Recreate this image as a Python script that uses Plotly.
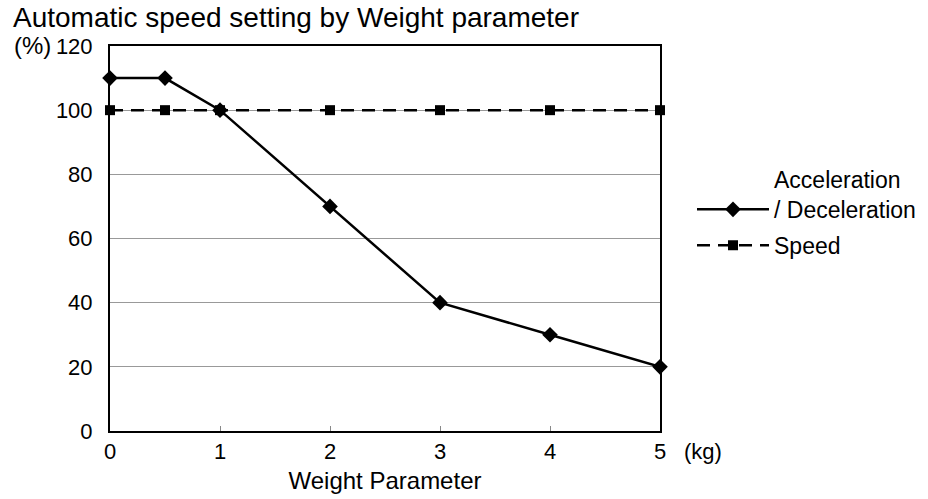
import plotly.graph_objects as go

# data
weight = [0, 0.5, 1, 2, 3, 4, 5]
accel = [110, 110, 100, 70, 40, 30, 20]
speed = [100, 100, 100, 100, 100, 100, 100]
x_ticks = [0, 1, 2, 3, 4, 5]
y_ticks = [0, 20, 40, 60, 80, 100, 120]

W, H = 928, 499
L, R, T, B = 110, 268, 46, 68
FONT = "Liberation Sans, Arial, sans-serif"


def px_x(p):
    # pixel -> paper x
    return (p - L) / (W - L - R)


def px_y(p):
    return (H - B - p) / (H - T - B)


fig = go.Figure()
fig.add_trace(go.Scatter(
    x=weight, y=accel, mode="lines+markers",
    name="Acceleration<br>/ Deceleration", legendgroup="acc",
    line=dict(color="black", width=2.5),
    marker=dict(symbol="diamond", size=12, color="black"),
    cliponaxis=False,
))
fig.add_trace(go.Scatter(
    x=weight, y=speed, mode="lines+markers", name="Speed", legendgroup="spd",
    line=dict(color="black", width=2.5, dash="13px,8px"),
    marker=dict(symbol="square", size=10, color="black"),
    cliponaxis=False,
))

fig.update_layout(
    width=W, height=H,
    margin=dict(l=L, r=R, t=T, b=B, autoexpand=False),
    plot_bgcolor="white", paper_bgcolor="white",
    font=dict(family=FONT, size=22, color="black"),
    title=dict(text="Automatic speed setting by Weight parameter",
               x=13 / W, xanchor="left", xref="container",
               y=1 - 17 / H, yanchor="middle", yref="container",
               font=dict(size=28)),
    xaxis=dict(range=[0, 5], tickvals=x_ticks, showgrid=False,
               ticks="inside", ticklen=5, tickcolor="#888", tickwidth=1,
               showline=True, linecolor="black", linewidth=2, mirror=True,
               zeroline=False, ticklabelstandoff=0, automargin=False,
               title=dict(text="Weight Parameter", standoff=9,
                          font=dict(size=24))),
    yaxis=dict(range=[0, 120], tickvals=y_ticks, showgrid=True,
               gridcolor="#999", gridwidth=1, ticks="",
               showline=True, linecolor="black", linewidth=2, mirror=True,
               zeroline=False, ticklabelstandoff=11, automargin=False),
    legend=dict(x=692 / W, y=1 - 158 / H, xref="container", yref="container",
                xanchor="left", yanchor="top", valign="bottom",
                itemwidth=72, bgcolor="rgba(0,0,0,0)",
                font=dict(size=23), tracegroupgap=3),
    annotations=[
        dict(text="(%)", xref="paper", yref="paper", x=px_x(12), y=px_y(45),
             xanchor="left", yanchor="middle", showarrow=False,
             font=dict(size=24)),
        dict(text="(kg)", xref="paper", yref="paper", x=px_x(682), y=px_y(451),
             xanchor="left", yanchor="middle", showarrow=False,
             font=dict(size=22)),
    ],
)

# drop the browser's default body margin so the figure sits at 0,0
fig.write_html("out.html", config={"displayModeBar": False},
               post_script="document.body.style.margin='0';")
